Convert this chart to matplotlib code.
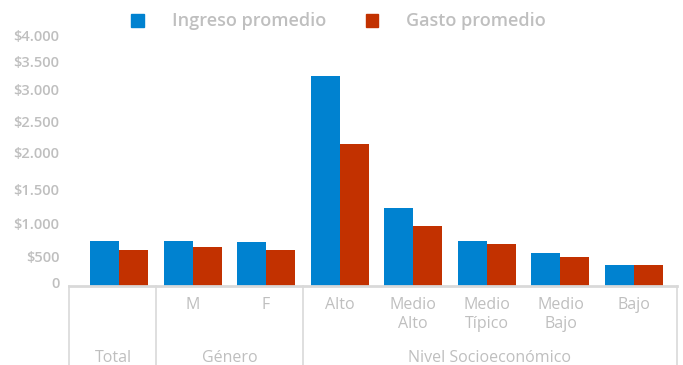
import numpy as np
import matplotlib
matplotlib.use("Agg")
import matplotlib.pyplot as plt
from matplotlib.patches import Patch
from matplotlib.transforms import blended_transform_factory, ScaledTranslation

categories = ["", "M", "F", "Alto", "Medio\nAlto", "Medio\nTípico", "Medio\nBajo", "Bajo"]
ingreso = [740, 740, 725, 3240, 1235, 740, 555, 355]
gasto = [600, 650, 600, 2135, 970, 695, 495, 355]
groups = ["Total", "Género", "Nivel Socioeconómico"]
group_spans = [(0, 0), (1, 2), (3, 7)]
series_names = ["Ingreso promedio", "Gasto promedio"]
tick_values = [0, 500, 1000, 1500, 2000, 2500, 3000, 3500, 4000]
tick_labels = ["0", "$500", "$1.000", "$1.500", "$2.000", "$2.500", "$3.000", "$3.500", "$4.000"]
# pixel heights of the (irregular) value axis in the reference
axis_px = [0, 28.8, 61.5, 95.5, 132.8, 164.5, 196.5, 223.8, 249.5]

BLUE = "#0082D0"
RED = "#C23100"
GRAY_T = "#BFBFBF"
GRAY_L = "#D9D9D9"

ev = np.array([-500] + tick_values + [4500], float)
ep = np.array([-28.8] + axis_px + [275.2], float)

def fwd(v):
    return np.interp(v, ev, ep)

def inv(p):
    return np.interp(p, ep, ev)

plt.rcParams['font.family'] = ['Open Sans', 'DejaVu Sans']

fig = plt.figure(figsize=(6.83, 3.65), dpi=100)
W, H = 683, 365
left_px, right_px = 69, 677
base_px = 285.5
ax = fig.add_axes([left_px / W, (H - base_px) / H, (right_px - left_px) / W, 249.5 / H])
ax.set_yscale('function', functions=(fwd, inv))

x = np.arange(len(categories))
bw = 0.394
ax.bar(x - bw / 2, ingreso, bw, color=BLUE, label=series_names[0])
ax.bar(x + bw / 2, gasto, bw, color=RED, label=series_names[1])

ax.set_xlim(-0.679, 7.584)
ax.set_ylim(0, 4000)
ax.set_yticks(tick_values)
ax.set_yticklabels(tick_labels)
ax.tick_params(axis='y', length=0, pad=7, labelsize=10.5, labelcolor=GRAY_T)
for t in ax.get_yticklabels():
    t.set_fontweight('semibold')
lab0 = ax.get_yticklabels()[0]
lab0.set_transform(lab0.get_transform() + ScaledTranslation(0, 3 / 100, fig.dpi_scale_trans))
ax.minorticks_off()

ax.set_xticks(x)
ax.set_xticklabels(categories, family=['Liberation Sans Narrow', 'Open Sans'],
                   fontsize=11.5, color=GRAY_T, linespacing=1.25)
ax.tick_params(axis='x', length=0, pad=8)

for s in ['top', 'right', 'left']:
    ax.spines[s].set_visible(False)
ax.spines['bottom'].set_color(GRAY_L)
ax.spines['bottom'].set_linewidth(2)

tr = blended_transform_factory(ax.transData, ax.transAxes)
ybot = -(H - base_px) / 249.5
for xs in [-0.679, 0.5, 2.5, 7.584]:
    ax.plot([xs, xs], [0, ybot], transform=tr, color=GRAY_L, lw=1.2, clip_on=False)

ygrp = -(358 - base_px) / 249.5
for name, (a, b) in zip(groups, group_spans):
    lo = -0.679 if a == 0 else a - 0.5
    hi = 7.584 if b == 7 else b + 0.5
    ax.text((lo + hi) / 2 if name != "Total" else 0.0 - 0.08, ygrp, name, transform=tr,
            ha='center', va='center', color=GRAY_T, fontsize=11.5,
            family=['Liberation Sans Narrow', 'Open Sans'])

handles = [Patch(color=BLUE, label=series_names[0]), Patch(color=RED, label=series_names[1])]
leg = fig.legend(handles=handles, loc='center', bbox_to_anchor=(338.5 / W, 1 - 21.5 / H),
                 ncol=2, frameon=False, fontsize=13, handlelength=0.7, handleheight=0.7,
                 handletextpad=1.55, columnspacing=2.2, borderpad=0)
for t in leg.get_texts():
    t.set_color(GRAY_T)
    t.set_fontweight('semibold')

fig.savefig("out.png", dpi=100)
